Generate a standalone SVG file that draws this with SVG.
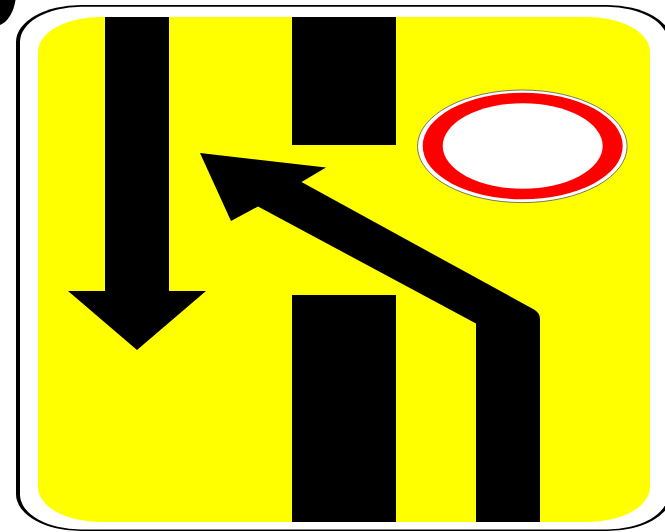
<svg xmlns="http://www.w3.org/2000/svg" width="665" height="532" viewBox="0 0 665 532">
  <style>
    .k { fill: #000; }
    .w { fill: #fff; }
  </style>
  <rect width="665" height="532" class="w"/>
  <path id="corner-blob" class="k" d="M0 0H15.500C14 11 8 22 0 25Z"/>
  <g id="sign-plate">
    <rect class="k" x="16" y="5" width="656" height="526" rx="65" ry="37"/>
    <rect class="w" x="20" y="6.800" width="648" height="522.700" rx="61" ry="35"/>
    <rect x="38" y="17" width="612" height="505" rx="62" ry="35" fill="#ff0"/>
  </g>
  <g id="straight-arrow">
    <path class="k" d="M105 17H169V291H206L137 350L68 291H105Z"/>
  </g>
  <g id="lane-divider">
    <rect class="k" x="292" y="17" width="104" height="128"/>
    <rect class="k" x="292" y="295" width="104" height="227"/>
  </g>
  <g id="turn-arrow">
    <path class="k" d="M200 153L326 167.500L301.500 182L534 309.500Q540 313 540 319V522H476V323.500L258 206.500L231 221Z"/>
  </g>
  <g id="restriction-sign">
    <ellipse cx="522.300" cy="146.300" rx="104.800" ry="56.300" fill="#fff" stroke="#555" stroke-width="0.800"/>
    <ellipse cx="522.700" cy="146" rx="100" ry="53.300" fill="#f00"/>
    <ellipse cx="522.700" cy="146" rx="80" ry="42.700" fill="#fff"/>
  </g>
</svg>
